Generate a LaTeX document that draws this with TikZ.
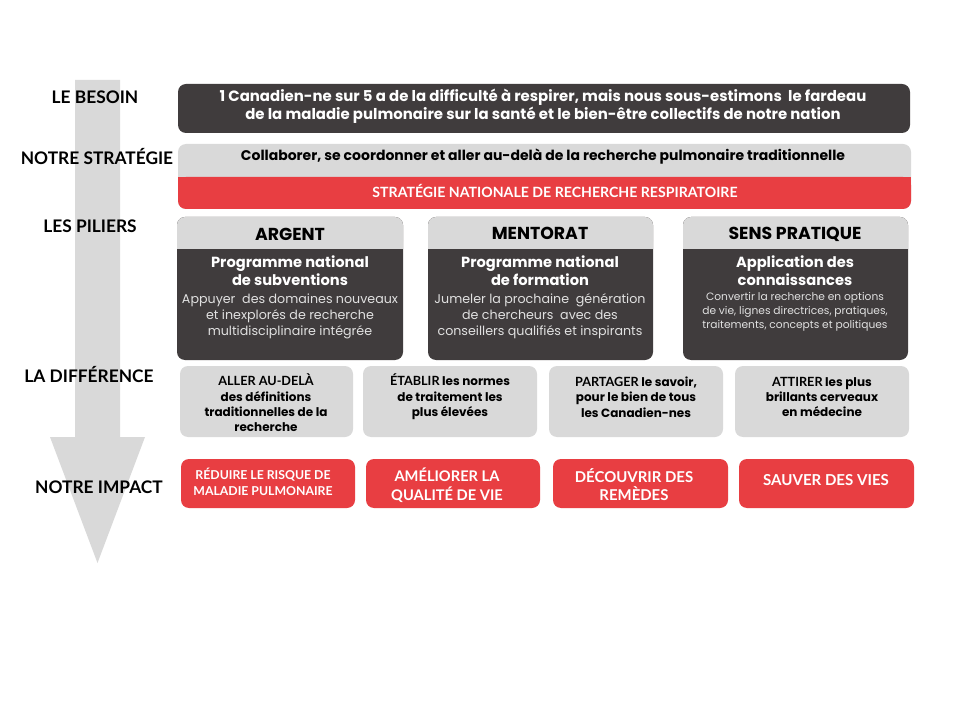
\documentclass[tikz,border=0pt]{standalone}
\usepackage{fontspec}
\setmainfont{Poppins}
\newfontfamily\lab{Lato}
\usetikzlibrary{fit}
\definecolor{dk}{RGB}{64,60,61}
\definecolor{lg}{RGB}{217,217,217}
\definecolor{rd}{RGB}{232,62,66}
\definecolor{desc}{RGB}{225,225,225}
\tikzset{
  shp/.style={inner sep=0pt, rounded corners=6pt},
  sq/.style={inner sep=0pt},
  lbl/.style={font=\lab\bfseries\fontsize{13}{15}\selectfont, text=black, inner sep=0pt},
  txt/.style={align=center, inner sep=0pt},
}
\newcommand\capw[1]{{\lab\bfseries\fontsize{9.5}{11.5}\selectfont #1}}
\begin{document}
\begin{tikzpicture}[x=0.75pt,y=-0.75pt]
\useasboundingbox[fill=white] (0,0) rectangle (960,720);
% big arrow
\fill[lg] (75,80) -- (120,80) -- (120,437) -- (145,437) -- (97.5,563) -- (50,437) -- (75,437) -- cycle;
% labels
\node[lbl] (l1) at (95,97) {LE BESOIN};
\node[lbl] (l2) at (97,157) {NOTRE STRATÉGIE};
\node[lbl] (l3) at (90,226) {LES PILIERS};
\node[lbl] (l4) at (89,375) {LA DIFFÉRENCE};
\node[lbl] (l5) at (99,487) {NOTRE IMPACT};
% besoin
\node[shp, fill=dk, fit={(178,84)(910,133)}] (besoin) {};
\node[txt, text=white, font=\bfseries\fontsize{11.2}{13.5}\selectfont] (besoint) at (543,106) {1 Canadien-ne sur 5 a de la difficulté à respirer, mais nous sous-estimons\ \ le fardeau\\de la maladie pulmonaire sur la santé et le bien-être collectifs de notre nation};
% strategie
\node[shp, fill=lg, fit={(178,144)(911,209)}] (strat) {};
\node[shp, fill=rd, fit={(178,177)(911,209)}] (snrr) {};
\node[sq, fill=rd, fit={(178,177)(911,186)}] (snrrtop) {};
\node[txt, font=\bfseries\fontsize{10.5}{11}\selectfont] (collab) at (543,157) {Collaborer, se coordonner et aller au-delà de la recherche pulmonaire traditionnelle};
\node[txt, text=white, font=\lab\bfseries\fontsize{10.6}{11}\selectfont] (snrrt) at (555,191) {STRATÉGIE NATIONALE DE RECHERCHE RESPIRATOIRE};
% piliers
\foreach \n/\a/\b in {p1/177/403, p2/428/653, p3/683/908}{
  \node[shp, fill=dk, fit={(\a,217)(\b,360)}] (\n) {};
  \node[shp, fill=lg, fit={(\a,217)(\b,249)}] (\n h) {};
  \node[sq, fill=lg, fit={(\a,240)(\b,249)}] (\n hb) {};
}
\tikzset{ph/.style={txt, font=\bfseries\fontsize{13}{15}\selectfont, text=black},
         pt/.style={txt, font=\bfseries\fontsize{11}{13.5}\selectfont, text=white},
         pd/.style={txt, font=\fontsize{9.5}{12}\selectfont, text=desc}}
\node[ph] (p1t) at (290,234) {ARGENT};
\node[ph] (p2t) at (540,233) {MENTORAT};
\node[ph] (p3t) at (795,234) {SENS PRATIQUE};
\node[pt] (p1s) at (290,271) {Programme national\\de subventions};
\node[pt] (p2s) at (540,271) {Programme national\\de formation};
\node[pt] (p3s) at (795,271) {Application des\\connaissances};
\node[pd] (p1d) at (290,316) {Appuyer\ \ des domaines nouveaux\\et inexplorés de recherche\\multidisciplinaire intégrée};
\node[pd] (p2d) at (540,316) {Jumeler la prochaine\ \ génération\\de chercheurs\ \ avec des\\conseillers qualifiés et inspirants};
\node[pd, font=\fontsize{8}{10.5}\selectfont] (p3d) at (795,312) {Convertir la recherche en options\\de vie, lignes directrices, pratiques,\\traitements, concepts et politiques};
% difference
\tikzset{dt/.style={txt, font=\bfseries\fontsize{9}{11.5}\selectfont, text=black}}
\node[shp, fill=lg, fit={(180,366)(353,437)}] (d1) {};
\node[shp, fill=lg, fit={(363,366)(537,437)}] (d2) {};
\node[shp, fill=lg, fit={(549,366)(723,437)}] (d3) {};
\node[shp, fill=lg, fit={(735,366)(909,437)}] (d4) {};
\node[dt] (d1t) at (266,403) {\capw{ALLER AU-DELÀ}\\des définitions\\traditionnelles de la\\recherche};
\node[dt] (d2t) at (450,397) {\capw{ÉTABLIR} les normes\\de traitement les\\plus élevées};
\node[dt] (d3t) at (636,397) {\capw{PARTAGER} le savoir,\\pour le bien de tous\\les Canadien-nes};
\node[dt] (d4t) at (822,397) {\capw{ATTIRER} les plus\\brillants cerveaux\\en médecine};
% impact
\tikzset{it/.style={txt, font=\lab\bfseries\fontsize{11}{14}\selectfont, text=white}}
\node[shp, fill=rd, fit={(181,459)(355,508)}] (i1) {};
\node[shp, fill=rd, fit={(366,459)(540,508)}] (i2) {};
\node[shp, fill=rd, fit={(553,459)(728,508)}] (i3) {};
\node[shp, fill=rd, fit={(739,459)(914,508)}] (i4) {};
\node[it, font=\lab\bfseries\fontsize{9.2}{12}\selectfont] (i1t) at (263,482) {RÉDUIRE LE RISQUE DE\\MALADIE PULMONAIRE};
\node[it] (i2t) at (447,485) {AMÉLIORER LA\\QUALITÉ DE VIE};
\node[it, font=\lab\bfseries\fontsize{11.2}{13.5}\selectfont] (i3t) at (634,485) {DÉCOUVRIR DES\\REMÈDES};
\node[it, font=\lab\bfseries\fontsize{11.3}{13}\selectfont] (i4t) at (826,480) {SAUVER DES VIES};
\end{tikzpicture}
\end{document}
